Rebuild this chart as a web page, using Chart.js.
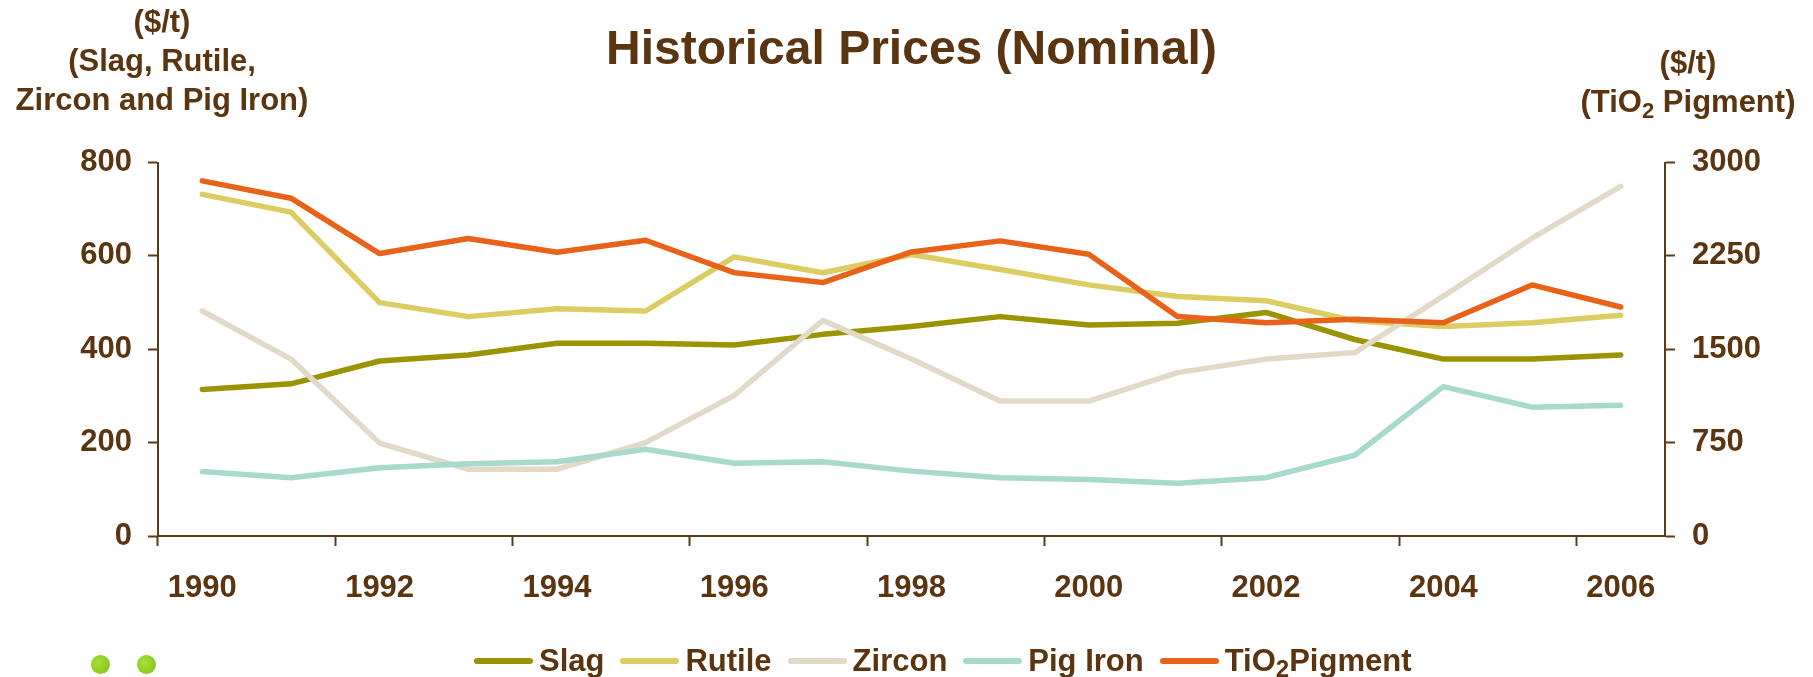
<!DOCTYPE html>
<html>
<head>
<meta charset="utf-8">
<title>Historical Prices (Nominal)</title>
<script src="https://cdn.jsdelivr.net/npm/chart.js@4.4.1/dist/chart.umd.min.js"></script>
<style>
  html, body { margin: 0; padding: 0; background: #fff; }
  #wrap { position: relative; width: 1813px; height: 677px; overflow: hidden; }
  #wrap canvas { position: absolute; left: 0; top: 0; }
  .txt { position: absolute; font-family: 'Liberation Sans', Arial, sans-serif; font-weight: bold; color: #5a3510; white-space: nowrap; }
  .axisTitle { font-size: 31px; line-height: 39px; text-align: center; transform: translateX(-50%); }
  .axisTitle sub { font-size: 22px; vertical-align: -6px; line-height: 0; }
  #legend { position: absolute; left: 474px; top: 639px; height: 44px; display: flex; align-items: center;
            font-family: 'Liberation Sans', Arial, sans-serif; font-weight: bold; font-size: 31px; line-height: 36px; color: #5a3510; }
  #legend .item { display: flex; align-items: center; margin-right: 16px; }
  #legend .swatch { width: 59px; height: 6px; border-radius: 3px; margin-right: 6px; }
  #legend sub { font-size: 24px; vertical-align: -6px; line-height: 0; }
  .dot { position: absolute; width: 19px; height: 19px; border-radius: 50%;
         background: radial-gradient(circle at 40% 40%, #a6e03a, #7fbf10); }
</style>
</head>
<body>
<div id="wrap">
  <canvas id="priceChart" width="1813" height="677"></canvas>
  <div class="txt axisTitle" style="left:162px; top:2px;">($/t)<br>(Slag, Rutile,<br>Zircon and Pig Iron)</div>
  <div class="txt axisTitle" style="left:1688px; top:43px;">($/t)<br>(TiO<sub>2</sub> Pigment)</div>
  <div id="legend"></div>
  <div class="dot" style="left:91px; top:655px;"></div>
  <div class="dot" style="left:137px; top:655px;"></div>
</div>
<script>
// Data
const years = ['1990', '1991', '1992', '1993', '1994', '1995', '1996', '1997', '1998',
               '1999', '2000', '2001', '2002', '2003', '2004', '2005', '2006'];
const slag    = [314, 326, 375, 388, 413, 413, 409, 432, 449, 470, 452, 456, 479, 421, 379, 379, 388];
const rutile  = [732, 694, 500, 470, 487, 482, 598, 564, 603, 571, 538, 513, 504, 461, 449, 457, 473];
const zircon  = [482, 379, 199, 143, 143, 200, 301, 462, 379, 289, 289, 350, 379, 393, 514, 638, 749];
const pigIron = [138, 125, 146, 155, 159, 186, 156, 159, 139, 125, 121, 113, 125, 173, 320, 276, 280];
const tio2    = [2853, 2714, 2269, 2390, 2280, 2376, 2116, 2036, 2282, 2371, 2264, 1763, 1714, 1741, 1714, 2017, 1840];

// Axis ticks
const leftTicks  = [0, 200, 400, 600, 800];
const rightTicks = [0, 750, 1500, 2250, 3000];

const BROWN = '#5a3510';
const AXIS = '#5c3b17';
const FONT = "'Liberation Sans', Arial, sans-serif";

const series = [
  { label: 'Slag',     html: 'Slag',               data: slag,    color: '#9a9403', axis: 'y',  order: 4 },
  { label: 'Rutile',   html: 'Rutile',             data: rutile,  color: '#dbcd62', axis: 'y',  order: 3 },
  { label: 'Zircon',   html: 'Zircon',             data: zircon,  color: '#e1dac9', axis: 'y',  order: 2 },
  { label: 'Pig Iron', html: 'Pig Iron',           data: pigIron, color: '#a7d9cc', axis: 'y',  order: 1 },
  { label: 'TiO2Pigment', html: 'TiO<sub>2</sub>Pigment', data: tio2, color: '#e8621a', axis: 'y1', order: 0 }
];

const datasets = series.map(s => ({
  label: s.label,
  data: s.data,
  yAxisID: s.axis,
  order: s.order,
  borderColor: s.color,
  backgroundColor: s.color,
  borderWidth: 5.5,
  borderCapStyle: 'round',
  borderJoinStyle: 'round',
  pointRadius: 0,
  tension: 0,
  fill: false
}));

// Legend (built from the series list)
const legendEl = document.getElementById('legend');
series.forEach(s => {
  const item = document.createElement('div');
  item.className = 'item';
  item.innerHTML = `<span class="swatch" style="background:${s.color}"></span><span>${s.html}</span>`;
  legendEl.appendChild(item);
});

const tickFont = { family: FONT, size: 31, weight: 'bold' };

new Chart(document.getElementById('priceChart'), {
  type: 'line',
  data: { labels: years, datasets: datasets },
  options: {
    responsive: false,
    animation: false,
    devicePixelRatio: 1,
    layout: { padding: { left: 0, right: 0, top: 0, bottom: 0 } },
    plugins: {
      legend: { display: false },
      tooltip: { enabled: false },
      title: {
        display: true,
        text: 'Historical Prices (Nominal)',
        color: BROWN,
        fullSize: false,
        font: { family: FONT, size: 48, weight: 'bold', lineHeight: 1.2 },
        padding: { top: 22, bottom: 83 }
      }
    },
    scales: {
      x: {
        type: 'category',
        offset: true,
        border: { display: true, color: AXIS, width: 2 },
        grid: {
          display: true,
          offset: true,
          drawOnChartArea: false,
          tickLength: 10,
          tickWidth: 2,
          color: AXIS,
          tickColor: ctx => (ctx.index !== undefined && ctx.index % 2 === 0) ? AXIS : 'rgba(0,0,0,0)'
        },
        ticks: {
          autoSkip: false,
          maxRotation: 0,
          color: BROWN,
          font: tickFont,
          padding: 24,
          callback: function (v, i) { return i % 2 === 0 ? this.getLabelForValue(v) : ''; }
        },
        afterFit: s => { s.height = 141; }
      },
      y: {
        position: 'left',
        min: leftTicks[0],
        max: leftTicks[leftTicks.length - 1],
        border: { display: true, color: AXIS, width: 2 },
        grid: { drawOnChartArea: false, tickLength: 10, tickWidth: 2, color: AXIS },
        ticks: { stepSize: leftTicks[1] - leftTicks[0], color: BROWN, font: tickFont, padding: 16,
                 callback: v => String(v) },
        afterFit: s => { s.width = 158; }
      },
      y1: {
        position: 'right',
        min: rightTicks[0],
        max: rightTicks[rightTicks.length - 1],
        border: { display: true, color: AXIS, width: 2 },
        grid: { drawOnChartArea: false, tickLength: 10, tickWidth: 2, color: AXIS },
        ticks: { stepSize: rightTicks[1] - rightTicks[0], color: BROWN, font: tickFont, padding: 17,
                 callback: v => String(v) },
        afterFit: s => { s.width = 148; }
      }
    }
  }
});
</script>
</body>
</html>
